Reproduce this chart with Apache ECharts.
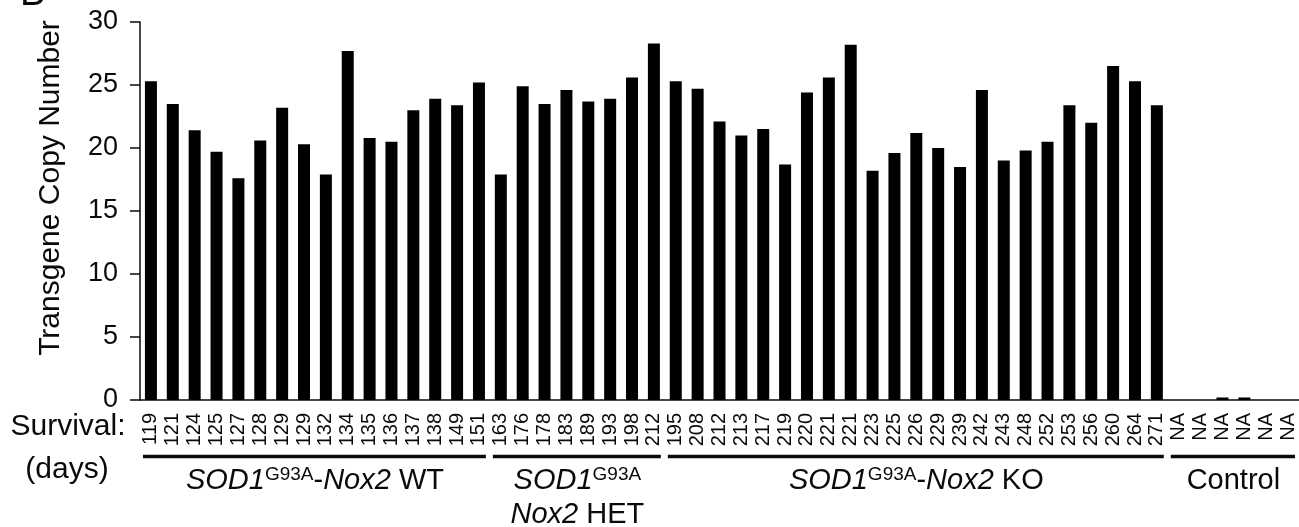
<!DOCTYPE html>
<html>
<head>
<meta charset="utf-8">
<script src="https://cdn.jsdelivr.net/npm/echarts@6/dist/echarts.min.js"></script>
<style>
  html, body { margin: 0; padding: 0; background: #fff; }
  #chart { width: 1299px; height: 527px; }
</style>
</head>
<body>
<div id="chart"></div>
<script>
// survival (days) for each mouse, used as the category labels
const survival = [
  '119', '121', '124', '125', '127', '128', '129', '129', '132', '134', '135', '136', '137', '138', '149', '151',
  '163', '176', '178', '183', '189', '193', '198', '212',
  '195', '208', '212', '213', '217', '219', '220', '221', '221', '223', '225', '226', '229', '239', '242', '243',
  '248', '252', '253', '256', '260', '264', '271',
  'NA', 'NA', 'NA', 'NA', 'NA', 'NA'
];
// transgene copy number per mouse
const copyNumber = [
  25.3, 23.5, 21.4, 19.7, 17.6, 20.6, 23.2, 20.3, 17.9, 27.7, 20.8, 20.5, 23.0, 23.9, 23.4, 25.2,
  17.9, 24.9, 23.5, 24.6, 23.7, 23.9, 25.6, 28.3,
  25.3, 24.7, 22.1, 21.0, 21.5, 18.7, 24.4, 25.6, 28.2, 18.2, 19.6, 21.2, 20.0, 18.5, 24.6, 19.0,
  19.8, 20.5, 23.4, 22.0, 26.5, 25.3, 23.4,
  0, 0, 0.2, 0.2, 0, 0
];
const yTicks = [0, 5, 10, 15, 20, 25, 30];
// genotype groups: how many mice each, and their label lines
const groupSizes = [16, 8, 23, 6];
const groupLabels = [
  ['{i|SOD1}{s|G93A}{n|-}{i|Nox2}{n| WT}'],
  ['{i|SOD1}{s|G93A}', '{i|Nox2}{n| HET}'],
  ['{i|SOD1}{s|G93A}{n|-}{i|Nox2}{n| KO}'],
  ['{n|Control}']
];

const FONT = '"Liberation Sans", Arial, Helvetica, sans-serif';
const INK = '#0a0a0a';
const chart = echarts.init(document.getElementById('chart'));

const option = {
  backgroundColor: '#fff',
  animation: false,
  grid: {
    left: 140,
    top: 22,
    height: 378,
    width: 1166
  },
  xAxis: {
    type: 'category',
    data: survival,
    axisLine: { lineStyle: { color: INK, width: 1.5 } },
    axisTick: { show: false },
    axisLabel: {
      interval: 0,
      rotate: 90,
      margin: 13,
      fontSize: 20,
      fontFamily: FONT,
      color: INK
    }
  },
  yAxis: {
    type: 'value',
    min: yTicks[0],
    max: yTicks[yTicks.length - 1],
    interval: 5,
    splitLine: { show: false },
    axisLine: { show: true, lineStyle: { color: INK, width: 1.5 } },
    axisTick: { show: true, length: 10, lineStyle: { color: INK, width: 1.5 } },
    axisLabel: {
      margin: 22,
      fontSize: 27,
      fontFamily: FONT,
      color: INK
    }
  },
  series: [
    {
      type: 'bar',
      data: copyNumber,
      barWidth: 12,
      itemStyle: { color: '#000' }
    }
  ]
};

chart.setOption(option);

// group brackets and labels, placed from the category axis
const richStyles = {
  i: { fontSize: 29, fontStyle: 'italic', fontFamily: FONT, lineHeight: 32, fill: INK },
  n: { fontSize: 29, fontFamily: FONT, lineHeight: 32, fill: INK },
  s: { fontSize: 19, fontFamily: FONT, lineHeight: 19, verticalAlign: 'top', fill: INK }
};
const px = i => chart.convertToPixel({ xAxisIndex: 0 }, i);
const band = px(1) - px(0);
const graphics = [];
let start = 0;
groupSizes.forEach((size, k) => {
  const x0 = px(start) - band / 2 + 3;
  const x1 = px(start + size - 1) + band / 2 - 4;
  graphics.push({
    type: 'line',
    shape: { x1: x0, y1: 456.5, x2: x1, y2: 456.5 },
    style: { stroke: INK, lineWidth: 3.5 }
  });
  const cx = (px(start) + px(start + size - 1)) / 2;
  groupLabels[k].forEach((txt, j) => {
    graphics.push({
      type: 'text',
      x: cx,
      y: 481 + j * 34,
      style: {
        text: txt,
        rich: richStyles,
        align: 'center',
        verticalAlign: 'middle'
      }
    });
  });
  start += size;
});

graphics.push(
  {
    type: 'text', x: 68, y: 427,
    style: { text: 'Survival:', font: '30px ' + FONT, fill: INK, align: 'center', verticalAlign: 'middle' }
  },
  {
    type: 'text', x: 67, y: 470,
    style: { text: '(days)', font: '30px ' + FONT, fill: INK, align: 'center', verticalAlign: 'middle' }
  },
  {
    type: 'text', x: 51, y: 188, rotation: Math.PI / 2,
    style: { text: 'Transgene Copy Number', font: '30px ' + FONT, fill: INK, align: 'center', verticalAlign: 'middle' }
  },
  {
    type: 'text', x: 20, y: 14,
    style: { text: 'B', font: '38px ' + FONT, fill: INK, align: 'left', verticalAlign: 'bottom' }
  }
);

chart.setOption({ graphic: graphics });

window.addEventListener('resize', () => chart.resize());
</script>
</body>
</html>
